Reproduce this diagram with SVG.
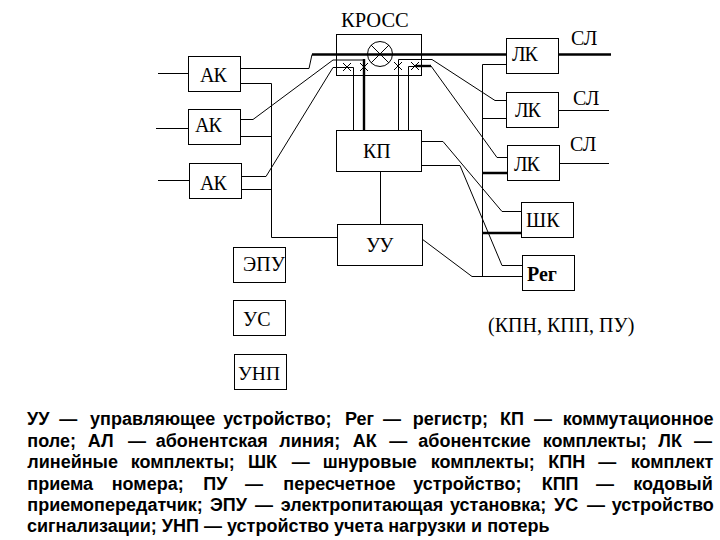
<svg xmlns="http://www.w3.org/2000/svg" width="720" height="540" viewBox="0 0 720 540">
<style>
.b{fill:#fff;stroke:#000;stroke-width:1}
.t{font-family:"Liberation Serif","Times New Roman",serif;fill:#000;font-size:20px}
.k{letter-spacing:-1px}
.l{fill:none;stroke:#000;stroke-width:1}
.h{fill:none;stroke:#000;stroke-width:2.4}
.d{font-family:"Liberation Sans",Arial,sans-serif;font-weight:bold;font-size:18px;fill:#000}
</style>
<rect width="720" height="540" fill="#fff"/>
<g id="cross"><rect class="b" x="336.5" y="34.5" width="85" height="41"/><circle class="l" cx="380" cy="54" r="12.5"/><path class="l" d="M371 45L389 63M389 45L371 63"/><text class="t" x="341" y="27" style="font-size:20.500px">КРОСС</text></g>
<g id="connectors">
<path class="l" d="M158 73.500H189M156 128.500H189M158 180.500H190"/>
<path class="l" d="M240 68.500H309L312 54.500"/>
<path class="h" d="M312 54.500H506"/>
<path class="l" d="M240 83.500H271.500V237.500H337M240 136.500H271.500M241 189.500H271.500"/>
<path class="l" d="M240 119.500H253L333 60H364"/>
<path class="l" d="M241 176.500H266L333 67.500H353.500V130"/>
<path class="h" d="M364 59V130"/>
<path class="l" d="M398.500 130V59.500H432L495 100.500H506"/>
<path class="l" d="M408.500 130V66.500H415"/>
<path class="h" d="M415 66H431"/>
<path class="l" d="M431 66L497 157.500H507"/>
<path class="l" d="M343 63L351 71M351 63L343 71M360 63L368 71M368 63L360 71M394 62L402 70M402 62L394 70M411 62L419 70M419 62L411 70"/>
<path class="l" d="M380.500 171V224"/>
<path class="l" d="M421 141.500H443L502 211.500H521"/>
<path class="l" d="M421 165.500H460L502 265.500H522"/>
<path class="l" d="M422 239L472 276.500H522"/>
<path class="l" d="M482.500 276V64.500H506M482.500 118.500H506"/>
<path class="h" d="M482 173H507M482 233H521"/>
<path class="h" d="M558 54.500H611"/>
<path class="l" d="M558 110.500H609M560 163.500H609"/>
</g>
<g id="ak1"><rect class="b" x="188.500" y="56.500" width="52" height="35"/><text class="t k" x="200" y="82">АК</text></g>
<g id="ak2"><rect class="b" x="188.500" y="109.500" width="52" height="35"/><text class="t k" x="195" y="132">АК</text></g>
<g id="ak3"><rect class="b" x="189.500" y="163.500" width="52" height="35"/><text class="t k" x="200" y="190">АК</text></g>
<g id="kp"><rect class="b" x="336.500" y="130.500" width="85" height="41"/><text class="t" x="363" y="158">КП</text></g>
<g id="uu"><rect class="b" x="337.500" y="224.500" width="85" height="41"/><text class="t k" x="366" y="252">УУ</text></g>
<g id="lk1"><rect class="b" x="506.500" y="38.500" width="52" height="35"/><text class="t k" x="512" y="61">ЛК</text></g>
<g id="lk2"><rect class="b" x="506.500" y="92.500" width="52" height="35"/><text class="t k" x="515" y="117">ЛК</text></g>
<g id="lk3"><rect class="b" x="507.500" y="145.500" width="52" height="35"/><text class="t k" x="514" y="171">ЛК</text></g>
<g id="shk"><rect class="b" x="521.500" y="202.500" width="52" height="35"/><text class="t" x="526" y="227">ШК</text></g>
<g id="reg"><rect class="b" x="522.500" y="255.500" width="52" height="35"/><text class="t" x="527" y="281" font-weight="bold">Рег</text></g>
<g id="epu"><rect class="b" x="233.500" y="247.500" width="52" height="35"/><text class="t" x="243" y="271">ЭПУ</text></g>
<g id="us"><rect class="b" x="233.500" y="300.500" width="52" height="35"/><text class="t" x="243" y="326">УС</text></g>
<g id="unp"><rect class="b" x="234.500" y="354.500" width="52" height="35"/><text class="t" x="238" y="380" style="font-size:19.500px">УНП</text></g>
<g id="labels">
<text class="t" x="571" y="45">СЛ</text>
<text class="t" x="573" y="105">СЛ</text>
<text class="t" x="570" y="151">СЛ</text>
<text class="t" x="488" y="332">(КПН, КПП, ПУ)</text>
</g>
<g id="caption">
<text class="d" y="425"><tspan x="27">УУ</tspan> <tspan x="59.300">—</tspan> <tspan x="90">управляющее</tspan> <tspan x="223.300">устройство;</tspan> <tspan x="345">Рег</tspan> <tspan x="383">—</tspan> <tspan x="412.700">регистр;</tspan> <tspan x="500">КП</tspan> <tspan x="534">—</tspan> <tspan x="562.700">коммутационное</tspan></text>
<text class="d" y="446.500"><tspan x="27.300">поле;</tspan> <tspan x="87.700">АЛ</tspan> <tspan x="128">—</tspan> <tspan x="155.700">абонентская</tspan> <tspan x="279.300">линия;</tspan> <tspan x="352.700">АК</tspan> <tspan x="389.300">—</tspan> <tspan x="418.300">абонентские</tspan> <tspan x="542.700">комплекты;</tspan> <tspan x="658.300">ЛК</tspan> <tspan x="694">—</tspan></text>
<text class="d" y="468"><tspan x="27.300">линейные</tspan> <tspan x="130.700">комплекты;</tspan> <tspan x="248">ШК</tspan> <tspan x="291.700">—</tspan> <tspan x="322.700">шнуровые</tspan> <tspan x="430.700">комплекты;</tspan> <tspan x="548.300">КПН</tspan> <tspan x="598.300">—</tspan> <tspan x="630.700">комплект</tspan></text>
<text class="d" y="489.500"><tspan x="27.300">приема</tspan> <tspan x="111.700">номера;</tspan> <tspan x="203.300">ПУ</tspan> <tspan x="245">—</tspan> <tspan x="283.300">пересчетное</tspan> <tspan x="413.300">устройство;</tspan> <tspan x="541.700">КПП</tspan> <tspan x="596">—</tspan> <tspan x="633.300">кодовый</tspan></text>
<text class="d" y="511"><tspan x="27.300">приемопередатчик;</tspan> <tspan x="210">ЭПУ</tspan> <tspan x="255">—</tspan> <tspan x="280.700">электропитающая</tspan> <tspan x="450">установка;</tspan> <tspan x="554">УС</tspan> <tspan x="587">—</tspan> <tspan x="611.700">устройство</tspan></text>
<text class="d" x="27" y="532">сигнализации; УНП — устройство учета нагрузки и потерь</text>
</g>
</svg>
